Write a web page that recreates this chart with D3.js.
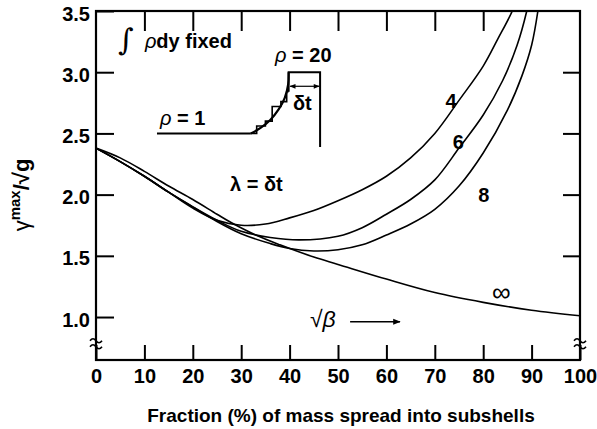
<!DOCTYPE html>
<html>
<head>
<meta charset="utf-8">
<script src="https://cdn.jsdelivr.net/npm/d3@7"></script>
<style>
    body { margin: 0; background: #fff; }
    svg { font-family: "Liberation Sans", Arial, sans-serif; }
    .axis text { font-size: 20px; font-weight: bold; fill: #000; }
    .axis line { stroke: #000; stroke-width: 2; }
    .lbl { font-size: 20px; font-weight: bold; fill: #000; }
</style>
</head>
<body>
<svg id="chart" width="597" height="429"></svg>
<script>
// Curves: [fraction %, gamma max / sqrt g]
const curve4 = [[0, 2.38], [5, 2.27], [10, 2.15], [15, 2.02], [20, 1.89], [25, 1.79], [30, 1.75], [35, 1.76],
    [40, 1.81], [45, 1.87], [50, 1.95], [55, 2.04], [60, 2.15], [65, 2.3], [70, 2.5], [75, 2.77],
    [80, 3.05], [83, 3.27], [86, 3.5], [86.8, 3.6]];
const curve6 = [[0, 2.38], [5, 2.27], [10, 2.15], [15, 2.02], [20, 1.9], [25, 1.79], [30, 1.7], [36, 1.65],
    [42, 1.63], [50, 1.66], [55, 1.73], [60, 1.84], [65, 1.96], [70, 2.12], [75, 2.38], [80, 2.65],
    [84, 2.93], [87, 3.22], [89, 3.5], [89.5, 3.6]];
const curve8 = [[0, 2.38], [5, 2.27], [10, 2.15], [15, 2.02], [20, 1.9], [25, 1.78], [30, 1.68], [36, 1.6],
    [40, 1.56], [45, 1.54], [50, 1.55], [55, 1.59], [60, 1.67], [65, 1.76], [70, 1.88], [75, 2.07],
    [80, 2.34], [85, 2.69], [88, 2.97], [90, 3.22], [91.3, 3.5], [91.6, 3.6]];
const curveInf = [[0, 2.38], [5, 2.3], [10, 2.19], [15, 2.07], [20, 1.96], [25, 1.84], [28, 1.77], [33, 1.67],
    [38, 1.59], [45, 1.49], [50, 1.43], [60, 1.31], [70, 1.2], [80, 1.12], [90, 1.055], [100, 1.01]];

const xTicks = [0, 10, 20, 30, 40, 50, 60, 70, 80, 90, 100];
const yTicks = [1.0, 1.5, 2.0, 2.5, 3.0, 3.5];

// inset sketch (density profile), in chart units
const rhoOneLine = [[12.6, 2.5], [32, 2.5]];
const rampCurve = [[32, 2.5], [34, 2.545], [36, 2.61], [37.8, 2.7], [39, 2.79], [39.7, 2.9], [39.8, 3.0]];
const rampSteps = [[32, 2.5], [33.2, 2.5], [33.2, 2.56], [35, 2.56], [35, 2.6], [36.4, 2.6], [36.4, 2.72],
    [38.2, 2.72], [38.2, 2.76], [39.4, 2.76], [39.4, 2.84], [39.8, 2.84]];
const shellBox = [[39.8, 2.84], [39.8, 3.0], [46.3, 3.0], [46.3, 2.39]];
const deltaT = [[40.1, 2.885], [46.1, 2.885]];
const betaArrow = [[52.5, 0.962], [62.8, 0.962]];

var svg = d3.select("#chart");

var x = d3.scaleLinear().domain([0, 100]).range([96, 580]);
var y = d3.scaleLinear().domain([0.649, 3.5]).range([360, 11]);

svg.append("defs").append("clipPath").attr("id", "plot")
    .append("rect")
    .attr("x", x(0)).attr("y", y(3.5))
    .attr("width", x(100) - x(0)).attr("height", y(0.649) - y(3.5));

// axes, ticks pointing inward
svg.append("g").attr("class", "axis")
    .attr("transform", "translate(0," + y(0.649) + ")")
    .call(d3.axisBottom(x).tickValues(xTicks).tickSizeInner(-15).tickSizeOuter(0).tickPadding(9))
    .call(g => g.select(".domain").remove());

svg.append("g").attr("class", "axis")
    .attr("transform", "translate(" + x(0) + ",0)")
    .call(d3.axisLeft(y).tickValues(yTicks).tickFormat(d3.format(".1f")).tickSizeInner(-18).tickSizeOuter(0).tickPadding(6))
    .call(g => g.select(".domain").remove())
    .call(g => g.selectAll("text").attr("dy", "0.45em"));

svg.append("g").attr("class", "axis")
    .attr("transform", "translate(0," + y(3.5) + ")")
    .call(d3.axisTop(x).tickValues(xTicks.slice(1, 9)).tickFormat("").tickSizeInner(-20).tickSizeOuter(0))
    .call(g => g.select(".domain").remove());

svg.append("g").attr("class", "axis")
    .attr("transform", "translate(" + x(100) + ",0)")
    .call(d3.axisRight(y).tickValues(yTicks.slice(1, 5)).tickFormat("").tickSizeInner(-17).tickSizeOuter(0))
    .call(g => g.select(".domain").remove());

// frame
svg.append("rect")
    .attr("x", x(0)).attr("y", y(3.5))
    .attr("width", x(100) - x(0)).attr("height", y(0.649) - y(3.5))
    .attr("fill", "none").attr("stroke", "#000").attr("stroke-width", 2.2);

// axis break marks
var yb = y(0.79);
[x(0), x(100)].forEach(cx => {
    [-3, 3].forEach(off => {
        svg.append("path")
            .attr("d", "M" + (cx - 6) + "," + (yb + off + 1) + " q3,-4 6,0 t6,0")
            .attr("fill", "none").attr("stroke", "#000").attr("stroke-width", 1.6);
    });
});

// curves
var line = d3.line().x(d => x(d[0])).y(d => y(d[1])).curve(d3.curveCatmullRom);
var curves = svg.append("g").attr("clip-path", "url(#plot)");
[curve4, curve6, curve8, curveInf].forEach(c => {
    curves.append("path")
        .attr("d", line(c))
        .attr("fill", "none").attr("stroke", "#000").attr("stroke-width", 1.6);
});

// inset sketch
var straight = d3.line().x(d => x(d[0])).y(d => y(d[1]));
var smooth = d3.line().x(d => x(d[0])).y(d => y(d[1])).curve(d3.curveCatmullRom);
svg.append("path").attr("d", straight(rhoOneLine)).attr("fill", "none").attr("stroke", "#000").attr("stroke-width", 2);
svg.append("path").attr("d", smooth(rampCurve)).attr("fill", "none").attr("stroke", "#000").attr("stroke-width", 2.2);
svg.append("path").attr("d", straight(rampSteps)).attr("fill", "none").attr("stroke", "#000").attr("stroke-width", 1.6);
svg.append("path").attr("d", straight(shellBox)).attr("fill", "none").attr("stroke", "#000").attr("stroke-width", 2);

svg.append("defs").html(
    '<marker id="ah" viewBox="0 0 10 10" refX="9" refY="5" markerWidth="6" markerHeight="5" orient="auto-start-reverse">' +
    '<path d="M0,1 L10,5 L0,9 z" fill="#000"/></marker>');
svg.append("path").attr("d", straight(deltaT)).attr("stroke", "#000").attr("stroke-width", 1.2)
    .attr("marker-start", "url(#ah)").attr("marker-end", "url(#ah)");
svg.append("path").attr("d", straight(betaArrow)).attr("stroke", "#000").attr("stroke-width", 1.5)
    .attr("marker-end", "url(#ah)");

// annotations
function label(t, xv, yv, extra) {
    var s = svg.append("text").attr("class", "lbl").attr("x", x(xv)).attr("y", y(yv)).text(t);
    if (extra) extra(s);
    return s;
}
svg.append("text").attr("x", x(4.6)).attr("y", y(3.18))
    .style("font-family", "DejaVu Serif").style("font-style", "italic").style("font-size", "30px").text("\u222B");
label("", 10.1, 3.198, s => {
    s.append("tspan").style("font-weight", "normal").style("font-style", "italic").text("\u03C1");
    s.append("tspan").text("dy fixed");
});
label("", 37.0, 3.083, s => {
    s.append("tspan").style("font-weight", "normal").style("font-style", "italic").text("\u03C1");
    s.append("tspan").text(" = 20");
});
label("", 13.2, 2.569, s => {
    s.append("tspan").style("font-weight", "normal").style("font-style", "italic").text("\u03C1");
    s.append("tspan").text(" = 1");
});
label("\u03B4t", 40.7, 2.69);
label("\u03BB = \u03B4t", 27.7, 2.03);
label("4", 72.2, 2.71);
label("6", 73.7, 2.373);
label("8", 79.0, 1.94);
label("\u221E", 81.8, 1.135).style("font-weight", "normal").style("font-size", "26px");
label("", 44.2, 0.918, s => {
    s.style("font-weight", "normal").style("font-size", "23px");
    s.append("tspan").text("\u221A");
    s.append("tspan").style("font-style", "italic").text("\u03B2");
});

// axis titles
svg.append("text").attr("class", "lbl")
    .attr("x", (x(0) + x(100)) / 2 + 3).attr("y", 422)
    .attr("text-anchor", "middle").style("font-size", "19px")
    .text("Fraction (%) of mass spread into subshells");

var yt = svg.append("text").attr("class", "lbl")
    .attr("transform", "translate(29,195) rotate(-90)")
    .attr("text-anchor", "middle");
yt.append("tspan").style("font-weight", "normal").style("font-size", "22px").text("\u03B3");
yt.append("tspan").attr("dy", "-9").style("font-size", "15px").text("max");
yt.append("tspan").attr("dy", "9").style("font-size", "22px").text("/\u221Ag");
</script>
</body>
</html>
